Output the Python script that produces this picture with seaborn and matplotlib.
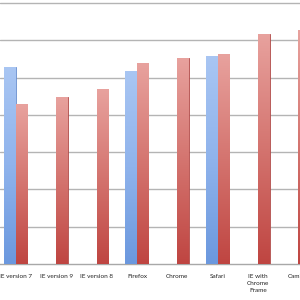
import matplotlib
matplotlib.use("Agg")
import matplotlib.pyplot as plt
from matplotlib.colors import LinearSegmentedColormap
import seaborn as sns
import pandas as pd
import numpy as np

categories = ["IE version 7", "IE version 9", "IE version 8", "Firefox", "Chrome",
              "Safari", "IE with\nChrome\nFrame", "Camino"]
series_a = [5.27, 0, 0, 5.18, 0, 5.58, 0, 0]
series_b = [4.28, 4.48, 4.68, 5.38, 5.53, 5.63, 6.18, 6.27]
series_names = ["Series 1", "Series 2"]

df = pd.DataFrame({
    "browser": categories * 2,
    "series": [series_names[0]] * len(categories) + [series_names[1]] * len(categories),
    "value": series_a + series_b,
})

sns.set_theme(style="white")
plt.rcParams['font.family'] = ['Lato', 'DejaVu Sans']

fig = plt.figure(figsize=(3, 3), dpi=100)
ax = fig.add_axes([0, 36/300, 1, 264/300])

sns.barplot(data=df, x="browser", y="value", hue="series", order=categories,
            hue_order=series_names, palette=["#8cb0ea", "#d98583"],
            width=0.57, ax=ax, legend=False, zorder=3)
edges = ["#6a90d0", "#b24a48"]
cmaps = [LinearSegmentedColormap.from_list("b", ["#6b98de", "#8fb3ec", "#a9c6f3"]),
         LinearSegmentedColormap.from_list("r", ["#bf4541", "#d4746f", "#e8a29e"])]
grad = np.linspace(0, 1, 256).reshape(-1, 1)
for i, cont in enumerate(ax.containers):
    for p in cont.patches:
        p.set_edgecolor(edges[i])
        p.set_linewidth(0.6)
        h = p.get_height()
        if h > 0:
            x0 = p.get_x()
            w = p.get_width()
            im = ax.imshow(grad, extent=[x0, x0 + w, 0, h], cmap=cmaps[i],
                           aspect="auto", origin="lower", zorder=3.2)
            im.set_clip_path(p)

ax.set_yticks(np.arange(1, 8))
ax.yaxis.grid(True, color="#b4b4b4", linewidth=1.0, zorder=0)
ax.set_axisbelow(True)
ax.set_yticklabels([])
ax.tick_params(axis="y", length=0)
for s in ["top", "right", "left"]:
    ax.spines[s].set_visible(False)
ax.spines["bottom"].set_color("#a8a8a8")
ax.spines["bottom"].set_linewidth(1.0)
ax.set_xlabel("")
ax.set_ylabel("")
ax.set_xticks(range(len(categories)))
ax.set_xticklabels(categories, fontsize=4.6, color="#222222", linespacing=1.4)
ax.tick_params(axis="x", length=0, pad=7.5)
ax.set_xticks(np.arange(-0.5, 8, 1), minor=True)
ax.tick_params(axis="x", which="minor", length=3, color="#a8a8a8", width=0.8, direction="out")

ax.set_xlim(-0.395, 7.04)
ax.set_ylim(0, 7.08)

fig.savefig("out.png", dpi=100)
